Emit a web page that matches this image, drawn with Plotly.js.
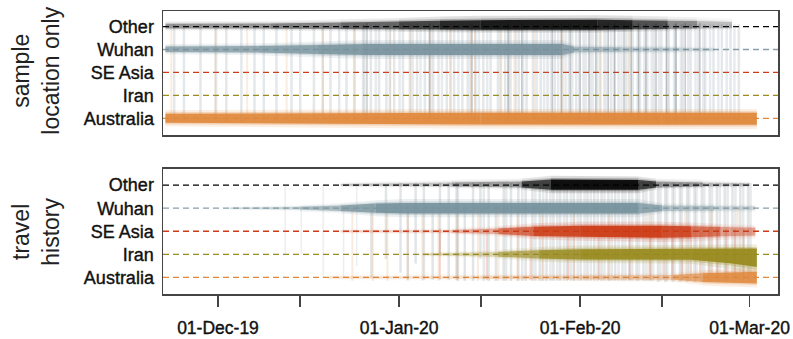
<!DOCTYPE html>
<html><head><meta charset="utf-8">
<script src="https://cdn.plot.ly/plotly-3.0.1.min.js"></script>
<style>html,body{margin:0;padding:0;background:#fff}#chart{width:793px;height:339px}</style>
</head><body><div id="chart"></div>
<script>
// ---------- categories & colours ----------
const categories = ['Australia', 'Iran', 'SE Asia', 'Wuhan', 'Other']; // y = 1..5
const catColors = ['#e0873a', '#9c8c1f', '#cf3b17', '#87a0aa', '#000000'];
const catRGB = ['224,135,58', '152,137,28', '204,58,20', '118,145,156', '0,0,0'];

const panelTitles = ['sample<br>location only', 'travel<br>history'];
const tickDates = ['2019-12-01', '2019-12-15', '2020-01-01', '2020-01-15', '2020-02-01', '2020-02-15', '2020-03-01'];
const tickLabels = ['01-Dec-19', '', '01-Jan-20', '', '01-Feb-20', '', '01-Mar-20'];
const xRange = ['2019-11-21 14:00', '2020-03-05 21:00'];

// ---------- top panel (sample location only) bands ----------
const topOtherDates = ['2019-11-22', '2019-12-10', '2019-12-22', '2020-01-01', '2020-01-08', '2020-01-15', '2020-02-04', '2020-02-10', '2020-02-16', '2020-02-21', '2020-02-27'];
const topOtherUp    = [0.12, 0.14, 0.18, 0.22, 0.26, 0.28, 0.3, 0.28, 0.26, 0.24, 0.2];
const topOtherLow   = [-0.08, -0.09, -0.1, -0.12, -0.13, -0.14, -0.14, -0.12, -0.1, -0.08, -0.06];
const topOtherAlpha = [0.3, 0.33, 0.42, 0.55, 0.7, 0.82, 0.85, 0.7, 0.45, 0.25, 0.12];

const topWuhanDates = ['2019-11-22', '2019-12-08', '2019-12-18', '2019-12-26', '2020-01-29', '2020-01-31', '2020-02-08', '2020-02-18', '2020-02-24'];
const topWuhanUp    = [0.13, 0.15, 0.2, 0.24, 0.24, 0.12, 0.1, 0.08, 0.06];
const topWuhanLow   = [-0.11, -0.13, -0.2, -0.24, -0.24, -0.12, -0.1, -0.08, -0.06];
const topWuhanAlpha = [0.65, 0.7, 0.8, 0.88, 0.88, 0.5, 0.38, 0.25, 0.15];

const topAusDates = ['2019-11-22', '2019-12-20', '2020-01-15', '2020-02-15', '2020-03-02 06:00'];
const topAusUp    = [0.2, 0.22, 0.24, 0.24, 0.24];
const topAusLow   = [-0.2, -0.24, -0.27, -0.28, -0.28];
const topAusAlpha = [0.88, 0.9, 0.92, 0.92, 0.92];

// ---------- bottom panel (travel history) bands ----------
const botOtherDates = ['2019-12-22', '2020-01-10', '2020-01-22', '2020-01-27', '2020-02-11', '2020-02-14', '2020-02-22', '2020-03-01'];
const botOtherUp    = [0.05, 0.12, 0.16, 0.24, 0.22, 0.16, 0.12, 0.08];
const botOtherLow   = [-0.03, -0.06, -0.1, -0.2, -0.2, -0.1, -0.06, -0.04];
const botOtherAlpha = [0.12, 0.22, 0.35, 0.92, 0.88, 0.4, 0.2, 0.1];

const botWuhanDates = ['2019-12-03', '2019-12-15', '2019-12-22', '2019-12-28', '2020-01-02', '2020-02-11', '2020-02-15', '2020-02-24', '2020-03-02'];
const botWuhanUp    = [0.02, 0.06, 0.12, 0.2, 0.23, 0.23, 0.12, 0.1, 0.08];
const botWuhanLow   = [-0.02, -0.06, -0.12, -0.2, -0.23, -0.23, -0.12, -0.1, -0.08];
const botWuhanAlpha = [0.2, 0.4, 0.65, 0.88, 0.92, 0.88, 0.5, 0.3, 0.2];

const botSEADates = ['2019-12-22', '2020-01-10', '2020-01-18', '2020-01-24', '2020-02-01', '2020-02-15', '2020-02-20', '2020-02-25', '2020-03-02'];
const botSEAUp    = [0.04, 0.06, 0.12, 0.2, 0.24, 0.24, 0.22, 0.18, 0.15];
const botSEALow   = [-0.04, -0.06, -0.12, -0.2, -0.24, -0.28, -0.26, -0.22, -0.18];
const botSEAAlpha = [0.12, 0.2, 0.45, 0.8, 0.92, 0.92, 0.75, 0.45, 0.3];

const botIranDates = ['2020-01-05', '2020-01-18', '2020-01-25', '2020-02-01', '2020-02-20', '2020-02-27', '2020-03-02 06:00'];
const botIranUp    = [0.03, 0.1, 0.18, 0.22, 0.24, 0.25, 0.25];
const botIranLow   = [-0.03, -0.1, -0.18, -0.22, -0.24, -0.4, -0.55];
const botIranAlpha = [0.15, 0.4, 0.75, 0.88, 0.92, 0.92, 0.92];

const botAusDates = ['2019-12-20', '2020-01-15', '2020-02-01', '2020-02-17', '2020-02-22', '2020-03-02 06:00'];
const botAusUp    = [0.05, 0.07, 0.08, 0.1, 0.18, 0.24];
const botAusLow   = [-0.05, -0.07, -0.08, -0.1, -0.2, -0.26];
const botAusAlpha = [0.12, 0.2, 0.28, 0.38, 0.78, 0.9];

// ---------- transition (vertical) lines ----------
const topFaintDates = ['2019-11-23 12:00', '2019-11-25 04:00', '2019-11-28', '2019-11-30 16:00', '2019-12-02 10:00', '2019-12-05', '2019-12-07 06:00', '2019-12-08 20:00', '2019-12-11', '2019-12-13 14:00', '2019-12-15 02:00', '2019-12-17 10:00', '2019-12-18 22:00', '2019-12-20 06:00', '2019-12-21 18:00', '2019-12-23', '2019-12-24 10:00', '2019-12-25 20:00', '2019-12-27 04:00', '2019-12-28 14:00', '2019-12-29 20:00', '2019-12-31 04:00', '2020-01-01 16:00', '2020-01-02 20:00', '2020-01-04 02:00', '2020-01-05 10:00', '2020-01-06 20:00', '2020-01-07 18:00', '2020-01-09 04:00', '2020-01-10 10:00', '2020-01-11 20:00', '2020-01-12 18:00', '2020-01-14 02:00', '2020-01-15 10:00', '2020-01-16 16:00', '2020-01-17 22:00', '2020-01-19 04:00', '2020-01-20 02:00', '2020-01-21 12:00', '2020-01-22 20:00', '2020-01-23 22:00', '2020-01-25 06:00', '2020-01-26 10:00', '2020-01-27 16:00', '2020-01-28 22:00', '2020-01-30 02:00', '2020-01-31 08:00', '2020-02-01 14:00', '2020-02-02 18:00', '2020-02-03 22:00', '2020-02-05 04:00', '2020-02-06 08:00', '2020-02-07 14:00', '2020-02-08 20:00', '2020-02-10', '2020-02-11 06:00', '2020-02-12 12:00', '2020-02-13 16:00', '2020-02-14 22:00', '2020-02-16 04:00', '2020-02-17 08:00', '2020-02-18 14:00', '2020-02-19 22:00', '2020-02-21 06:00', '2020-02-22 10:00', '2020-02-23 20:00', '2020-02-25 06:00', '2020-02-26 18:00', '2020-02-28 04:00'];
const topFaint2Dates = ['2019-12-26 02:00', '2019-12-28 00:00', '2019-12-30 10:00', '2020-01-01 02:00', '2020-01-03 08:00', '2020-01-04 16:00', '2020-01-06 04:00', '2020-01-08 08:00', '2020-01-09 20:00', '2020-01-11 04:00', '2020-01-13 06:00', '2020-01-14 16:00', '2020-01-16 02:00', '2020-01-18 08:00', '2020-01-19 18:00', '2020-01-21 00:00', '2020-01-22 06:00', '2020-01-24 14:00', '2020-01-25 20:00', '2020-01-27 00:00', '2020-01-28 06:00', '2020-01-29 12:00', '2020-01-30 16:00', '2020-01-31 20:00', '2020-02-02 00:00', '2020-02-03 04:00', '2020-02-04 10:00', '2020-02-05 14:00', '2020-02-06 20:00', '2020-02-08 02:00', '2020-02-09 12:00', '2020-02-10 20:00', '2020-02-12 00:00', '2020-02-13 06:00', '2020-02-14 12:00', '2020-02-15 22:00', '2020-02-17 02:00', '2020-02-18 06:00', '2020-02-19 12:00', '2020-02-20 18:00', '2020-02-22 02:00', '2020-02-23 06:00', '2020-02-24 16:00', '2020-02-26 02:00', '2020-02-27 10:00'];
const topDarkDates = ['2019-12-26 12:00', '2020-01-06 06:00', '2020-01-13 12:00', '2020-01-19 16:00', '2020-01-22', '2020-01-27 06:00', '2020-01-28 18:00', '2020-01-30 08:00', '2020-02-01', '2020-02-02 12:00', '2020-02-03 16:00', '2020-02-05 20:00', '2020-02-06 22:00', '2020-02-08 12:00', '2020-02-09 18:00', '2020-02-11', '2020-02-12 06:00', '2020-02-14', '2020-02-15 18:00', '2020-02-17 10:00', '2020-02-19', '2020-02-21 12:00'];
const topOrangeDates = ['2019-11-23', '2019-11-30 12:00', '2019-12-06', '2019-12-12 18:00', '2019-12-19', '2019-12-24 06:00', '2019-12-30 12:00', '2020-01-03', '2020-01-06 12:00', '2020-01-09 18:00', '2020-01-13 06:00', '2020-01-14', '2020-01-18 12:00', '2020-01-20 18:00', '2020-01-24 06:00', '2020-01-29', '2020-02-04 12:00', '2020-02-09 06:00'];

const botGrayDates = ['2019-12-27 06:00', '2019-12-29 18:00', '2020-01-01 06:00', '2020-01-02 12:00', '2020-01-03 20:00', '2020-01-05 06:00', '2020-01-06 18:00', '2020-01-08', '2020-01-09 12:00', '2020-01-10 20:00', '2020-01-12 06:00', '2020-01-13 16:00', '2020-01-14 22:00', '2020-01-16 08:00', '2020-01-17 14:00', '2020-01-18 22:00', '2020-01-20 04:00', '2020-01-21 10:00', '2020-01-22 16:00', '2020-01-23 20:00', '2020-01-25 02:00', '2020-01-26 06:00', '2020-01-27 10:00', '2020-01-28 14:00', '2020-01-29 18:00', '2020-01-30 22:00', '2020-02-01 02:00', '2020-02-02 06:00', '2020-02-03 10:00', '2020-02-04 16:00', '2020-02-05 20:00', '2020-02-07', '2020-02-08 06:00', '2020-02-09 10:00', '2020-02-10 16:00', '2020-02-11 20:00', '2020-02-13 02:00', '2020-02-14 08:00', '2020-02-15 14:00', '2020-02-16 20:00', '2020-02-18 02:00', '2020-02-19 08:00', '2020-02-20 14:00', '2020-02-21 20:00', '2020-02-23 04:00', '2020-02-24 10:00', '2020-02-25 18:00', '2020-02-27 02:00', '2020-02-28 10:00', '2020-02-29 18:00'];
const botGrayTop = [4.2, 5.0, 5.1, 4.1, 5.1, 5.1, 4.1, 5.1, 5.1, 5.1, 4.1, 5.1, 5.1, 5.1, 4.1, 5.1, 5.1, 5.1, 5.1, 5.1, 5.1, 5.1, 5.15, 5.15, 5.15, 5.15, 5.15, 5.15, 5.15, 5.15, 5.15, 5.15, 5.15, 5.15, 5.15, 5.15, 5.15, 5.1, 5.1, 5.1, 5.1, 5.1, 5.1, 5.1, 5.1, 5.1, 5.1, 5.1, 5.1, 5.1];
const botGrayBot = [1.0, 1.8, 1.2, 0.9, 1.6, 0.9, 0.9, 2.0, 0.9, 0.9, 0.85, 0.85, 1.8, 0.85, 0.85, 0.85, 0.85, 0.85, 0.85, 0.85, 0.85, 0.85, 0.85, 0.85, 0.85, 0.85, 0.85, 0.85, 0.85, 0.85, 0.85, 0.85, 0.85, 0.85, 0.85, 0.85, 0.85, 0.8, 0.8, 0.8, 0.8, 0.8, 0.8, 0.8, 0.8, 0.8, 0.8, 0.8, 0.8, 0.8];
const botGray2Dates = ['2020-01-11 02:00', '2020-01-15 12:00', '2020-01-19 08:00', '2020-01-22 02:00', '2020-01-24 08:00', '2020-01-25 16:00', '2020-01-26 22:00', '2020-01-28 02:00', '2020-01-29 06:00', '2020-01-30 10:00', '2020-01-31 14:00', '2020-02-01 18:00', '2020-02-02 20:00', '2020-02-04 00:00', '2020-02-05 04:00', '2020-02-06 10:00', '2020-02-07 14:00', '2020-02-08 18:00', '2020-02-09 22:00', '2020-02-11 02:00', '2020-02-12 08:00', '2020-02-13 12:00', '2020-02-14 18:00', '2020-02-15 22:00', '2020-02-17 04:00', '2020-02-18 10:00', '2020-02-19 16:00', '2020-02-20 22:00', '2020-02-22 06:00', '2020-02-23 14:00', '2020-02-24 22:00', '2020-02-26 06:00', '2020-02-27 14:00', '2020-02-28 22:00', '2020-03-01 04:00'];
const botEarlyDates = ['2019-12-12 12:00', '2019-12-15 06:00', '2019-12-19', '2019-12-22 12:00', '2019-12-24 18:00'];
const botEarlyTop = [5.0, 4.0, 5.0, 4.0, 5.0];
const botEarlyBot = [2.0, 2.0, 1.0, 1.0, 1.5];
const botRedDates = ['2020-01-08', '2020-01-16', '2020-01-23 12:00', '2020-01-30', '2020-02-04 06:00', '2020-02-09 12:00', '2020-02-13', '2020-02-15 06:00', '2020-02-16 18:00', '2020-02-18 12:00', '2020-02-20', '2020-02-21 12:00', '2020-02-23', '2020-02-24 12:00', '2020-02-26', '2020-02-27 12:00', '2020-02-29'];
const botOrangeDates = ['2019-12-24', '2019-12-27 12:00', '2019-12-30', '2020-01-02 12:00', '2020-01-05', '2020-01-07 18:00', '2020-01-11', '2020-01-14 12:00', '2020-01-18', '2020-01-21 06:00', '2020-01-25 12:00', '2020-01-31', '2020-02-06', '2020-02-12 18:00', '2020-02-19', '2020-02-23 12:00', '2020-02-28'];

// ---------- build traces ----------
const traces = [];
function band(xa, ya, cat, dates, up, low, alpha) {
  const c = catRGB[cat - 1];
  const layers = [[1.5, 0.05, 0.16], [1.2, 0.02, 0.3], [1.0, 0, 1.0]];
  layers.forEach(([k, pad, f]) => {
    for (let i = 0; i < dates.length - 1; i++) {
      const a = (alpha[i] + alpha[i + 1]) / 2 * f;
      traces.push({
        type: 'scatter', mode: 'lines', xaxis: xa, yaxis: ya, hoverinfo: 'skip', showlegend: false,
        x: [dates[i], dates[i + 1], dates[i + 1], dates[i]],
        y: [cat + up[i] * k + pad, cat + up[i + 1] * k + pad, cat + low[i + 1] * k - pad, cat + low[i] * k - pad],
        fill: 'toself', fillcolor: 'rgba(' + c + ',' + a.toFixed(3) + ')', line: {width: 0}
      });
    }
  });
}
function vlines(xa, ya, dates, tops, bots, color, width) {
  const x = [], y = [];
  dates.forEach((d, i) => {
    x.push(d, d, null);
    y.push(Array.isArray(tops) ? tops[i] : tops, Array.isArray(bots) ? bots[i] : bots, null);
  });
  traces.push({type: 'scatter', mode: 'lines', xaxis: xa, yaxis: ya, x: x, y: y, hoverinfo: 'skip', showlegend: false,
    line: {color: color, width: width}});
}

// top panel lines
vlines('x2', 'y2', topFaintDates, 5.1, 0.85, 'rgba(120,140,148,0.2)', 2.5);
vlines('x2', 'y2', topFaint2Dates, 5.1, 0.85, 'rgba(125,145,155,0.18)', 2.5);
vlines('x2', 'y2', topOrangeDates, 4.9, 0.9, 'rgba(224,135,58,0.16)', 2);
vlines('x2', 'y2', topDarkDates, 5.15, 0.85, 'rgba(60,70,75,0.28)', 1.5);
// bottom panel lines
vlines('x', 'y', botEarlyDates, botEarlyTop, botEarlyBot, 'rgba(140,150,155,0.16)', 1.5);
vlines('x', 'y', botGrayDates, botGrayTop, botGrayBot, 'rgba(110,125,132,0.2)', 2.5);
vlines('x', 'y', botGray2Dates, 5.1, 0.85, 'rgba(110,125,132,0.17)', 2.5);
vlines('x', 'y', botOrangeDates, 4.0, 0.85, 'rgba(224,135,58,0.17)', 2);
vlines('x', 'y', botRedDates, 3.1, 0.9, 'rgba(207,59,23,0.2)', 2);

// bands
band('x2', 'y2', 5, topOtherDates, topOtherUp, topOtherLow, topOtherAlpha);
band('x2', 'y2', 4, topWuhanDates, topWuhanUp, topWuhanLow, topWuhanAlpha);
band('x2', 'y2', 1, topAusDates, topAusUp, topAusLow, topAusAlpha);
band('x', 'y', 5, botOtherDates, botOtherUp, botOtherLow, botOtherAlpha);
band('x', 'y', 4, botWuhanDates, botWuhanUp, botWuhanLow, botWuhanAlpha);
band('x', 'y', 3, botSEADates, botSEAUp, botSEALow, botSEAAlpha);
band('x', 'y', 2, botIranDates, botIranUp, botIranLow, botIranAlpha);
band('x', 'y', 1, botAusDates, botAusUp, botAusLow, botAusAlpha);

// dashed reference lines
const shapes = [];
['', '2'].forEach(s => {
  categories.forEach((c, i) => {
    shapes.push({type: 'line', layer: 'below', xref: 'x' + s + ' domain', x0: 0, x1: 1, yref: 'y' + s, y0: i + 1, y1: i + 1,
      line: {color: catColors[i], width: 1.3, dash: '6px,4px'}});
  });
});

const FONT = 'Liberation Sans, Arial, Helvetica, sans-serif';
const axisBox = {showline: true, mirror: true, linecolor: '#444', linewidth: 1.5, showgrid: false, zeroline: false};
const yCommon = Object.assign({}, axisBox, {
  tickvals: [1, 2, 3, 4, 5], ticktext: categories, ticks: '', ticklabelstandoff: 4,
  tickfont: {family: FONT, size: 18, color: '#111'}, fixedrange: true
});

const layout = {
  width: 793, height: 339,
  margin: {l: 163, r: 15, t: 11, b: 45},
  paper_bgcolor: '#fff', plot_bgcolor: '#fff',
  showlegend: false,
  xaxis: Object.assign({}, axisBox, {
    type: 'date', range: xRange, anchor: 'y', tickvals: tickDates, ticktext: tickLabels,
    ticks: 'outside', ticklen: 11, tickwidth: 1.5, tickcolor: '#444', ticklabelstandoff: 6,
    tickfont: {family: FONT, size: 17.5, color: '#111'}
  }),
  xaxis2: Object.assign({}, axisBox, {type: 'date', range: xRange, anchor: 'y2', matches: 'x', showticklabels: false, ticks: ''}),
  yaxis: Object.assign({}, yCommon, {domain: [0, 0.4417], range: [0.28, 5.7], anchor: 'x'}),
  yaxis2: Object.assign({}, yCommon, {domain: [0.5618, 1], range: [0.27, 5.68], anchor: 'x2'}),
  shapes: shapes,
  annotations: [
    {text: panelTitles[0], xref: 'paper', yref: 'paper', x: -0.207, y: 0.788, textangle: -90, showarrow: false,
      xanchor: 'center', yanchor: 'middle', font: {family: FONT, size: 23, color: '#222'}},
    {text: panelTitles[1], xref: 'paper', yref: 'paper', x: -0.207, y: 0.219, textangle: -90, showarrow: false,
      xanchor: 'center', yanchor: 'middle', font: {family: FONT, size: 23, color: '#222'}}
  ]
};

Plotly.newPlot('chart', traces, layout, {staticPlot: true, displayModeBar: false}).then(() => {
  document.querySelectorAll('#chart g.xtick text, #chart g.ytick text, #chart g.y2tick text').forEach(t => {
    t.style.stroke = '#111';
    t.style.strokeWidth = '0.4px';
  });
});
</script>
</body></html>
